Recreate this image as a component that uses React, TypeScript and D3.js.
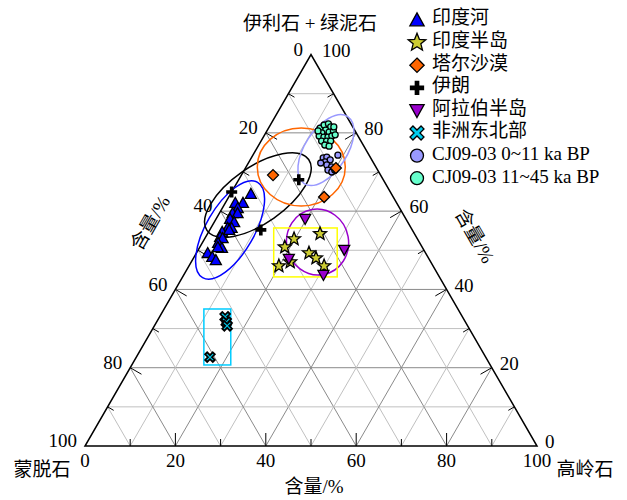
import React from "react";
import * as d3 from "d3";

const W = 627;
const H = 500;
const FONT = "'Liberation Serif', 'Times New Roman', 'Noto Sans CJK SC', serif";

// Each point: [高岭石 (kaolinite) %, 伊利石+绿泥石 (illite + chlorite) %]; 蒙脱石 = 100 - both
const indusRiver: [number, number][] = [
  [4.5, 64.4], [2.2, 62.1], [3.9, 62.1], [3.4, 60.8], [2.9, 59.5], [4.0, 59.5],
  [3.1, 58.0], [4.4, 57.2], [3.7, 55.7], [4.6, 55.7], [3.0, 54.7], [4.3, 55.2],
  [3.2, 53.4], [3.9, 53.1], [3.5, 51.9], [5.0, 50.6], [4.0, 50.8], [2.5, 49.3],
  [4.0, 48.3], [5.2, 47.5],
];
const indianPeninsula: [number, number][] = [
  [19.8, 52.9], [24.9, 54.2], [18.8, 50.8], [24.9, 49.3], [27.1, 48.0],
  [21.9, 47.0], [19.9, 46.0], [29.9, 46.0],
];
const tharDesert: [number, number][] = [[7.0, 69.2], [21.1, 63.6], [20.0, 71.0]];
const iran: [number, number][] = [[0.0, 64.9], [11.3, 55.2], [13.3, 68.0]];
const arabianPeninsula: [number, number][] = [[19.7, 58.0], [32.3, 50.1], [30.9, 43.7], [21.2, 47.8]];
const northeastAfrica: [number, number][] = [[14.5, 33.0], [15.4, 31.7], [16.1, 30.7], [16.3, 22.7]];
const cj0to11: [number, number][] = [
  [15.9, 73.6], [16.6, 73.8], [18.8, 74.3], [16.8, 72.6], [17.7, 73.1], [17.6, 71.8],
  [18.9, 71.3], [18.5, 70.5], [19.6, 70.0], [20.0, 70.5], [16.0, 72.3],
];
const cj11to45: [number, number][] = [
  [11.4, 81.2], [11.9, 82.0], [12.7, 82.3], [13.6, 81.5], [12.9, 80.7], [12.4, 80.0],
  [13.9, 80.2], [14.7, 80.5], [12.2, 79.2], [13.4, 78.9], [14.3, 78.9], [15.0, 79.2],
  [13.4, 77.9], [14.5, 77.9], [15.4, 77.9], [14.6, 76.9], [15.7, 76.6], [14.3, 81.5],
  [11.3, 80.5], [15.6, 79.5],
];

const legendLabels = [
  "印度河", "印度半岛", "塔尔沙漠", "伊朗", "阿拉伯半岛", "非洲东北部",
  "CJ09-03 0~11 ka BP", "CJ09-03 11~45 ka BP",
];
const labelTicks = [0, 20, 40, 60, 80, 100];
const gridTicks = [10, 20, 30, 40, 50, 60, 70, 80, 90];

const xS = d3.scaleLinear().domain([0, 100]).range([85, 537]);
const yS = d3.scaleLinear().domain([0, 100]).range([446, 446 - (452 * Math.sqrt(3)) / 2]);
const proj = (k: number, i: number): [number, number] => [xS(k + i / 2), yS(i)];

type Kind = "triUp" | "star" | "diamond" | "plus" | "triDown" | "cross" | "circleA" | "circleB";
const kinds: Kind[] = ["triUp", "star", "diamond", "plus", "triDown", "cross", "circleA", "circleB"];
const fills: Record<Kind, string> = {
  triUp: "#0000ff",
  star: "#cccc33",
  diamond: "#ff6600",
  plus: "#000000",
  triDown: "#9900cc",
  cross: "#00ccee",
  circleA: "#9999ff",
  circleB: "#66ffcc",
};

function starPath(R: number, r: number) {
  const pts: string[] = [];
  for (let j = 0; j < 10; j++) {
    const a = -Math.PI / 2 + (j * Math.PI) / 5;
    const rr = j % 2 === 0 ? R : r;
    pts.push(`${(rr * Math.cos(a)).toFixed(2)},${(rr * Math.sin(a)).toFixed(2)}`);
  }
  return "M" + pts.join("L") + "Z";
}
function plusPath(a: number, w: number) {
  return `M${-w},${-a}L${w},${-a}L${w},${-w}L${a},${-w}L${a},${w}L${w},${w}L${w},${a}L${-w},${a}L${-w},${w}L${-a},${w}L${-a},${-w}L${-w},${-w}Z`;
}

function Marker({ kind, x, y, s, sw, legend }: { kind: Kind; x: number; y: number; s: number; sw: number; legend?: boolean }) {
  const t = `translate(${x},${y})`;
  const common = { fill: fills[kind], stroke: "#000", strokeWidth: sw, strokeLinejoin: "miter" as const, transform: t };
  switch (kind) {
    case "triUp":
      return <path {...common} d={`M0,${-s * 0.55}L${s * 0.55},${s * 0.45}L${-s * 0.55},${s * 0.45}Z`} />;
    case "triDown":
      return <path {...common} d={`M0,${s * 0.55}L${s * 0.55},${-s * 0.45}L${-s * 0.55},${-s * 0.45}Z`} />;
    case "star":
      return <path {...common} d={starPath(s * 0.62, s * 0.27)} />;
    case "diamond":
      return <path {...common} d={`M0,${-s * 0.55}L${s * 0.55},0L0,${s * 0.55}L${-s * 0.55},0Z`} />;
    case "plus":
      return <path {...common} stroke="none" d={plusPath(s * 0.55, s * 0.18)} />;
    case "cross":
      return <path {...common} transform={`${t} rotate(45)`} d={plusPath(s * 0.6, s * 0.16)} />;
    case "circleA":
    case "circleB":
      return <circle fill={fills[kind]} stroke="#000" strokeWidth={sw} cx={x} cy={y} r={legend ? s * 0.5 : s * 0.3} />;
  }
}

const seriesData: [Kind, [number, number][]][] = [
  ["circleB", cj11to45],
  ["circleA", cj0to11],
  ["triUp", indusRiver],
  ["star", indianPeninsula],
  ["triDown", arabianPeninsula],
  ["diamond", tharDesert],
  ["plus", iran],
  ["cross", northeastAfrica],
];

// region outlines: centre in ternary coords [K, I]
const ellipses = [
  { c: [4.5, 55.2], rx: 55, ry: 24, rot: -60, color: "#0000ff" },
  { c: [6.2, 64.1], rx: 62, ry: 28, rot: -35, color: "#000000" },
  { c: [12.2, 71.3], rx: 44, ry: 39, rot: 0, color: "#ff6600" },
  { c: [15.5, 75.6], rx: 40, ry: 21, rot: -57, color: "#9999ff" },
  { c: [25.4, 52.1], rx: 31, ry: 33, rot: -10, color: "#9900cc" },
];
const boxes = [
  { a: [13.9, 55.7], b: [34.2, 43.2], color: "#ffff00" },
  { a: [8.8, 35.0], b: [21.9, 20.7], color: "#00ccff" },
];

export default function App() {
  const [lx, ly] = proj(0, 0);
  const [rx, ry] = proj(100, 0);
  const [tx, ty] = proj(0, 100);
  const c30 = Math.cos(Math.PI / 6);
  const s30 = 0.5;

  const grid: JSX.Element[] = [];
  gridTicks.forEach((v) => {
    const col = v % 20 === 0 ? "#8a8a8a" : "#c0c0c0";
    const segs: [[number, number], [number, number]][] = [
      [proj(0, v), proj(100 - v, v)],
      [proj(v, 0), proj(v, 100 - v)],
      [proj(100 - v, 0), proj(0, 100 - v)],
    ];
    segs.forEach((sg, j) =>
      grid.push(
        <line key={`g${v}-${j}`} x1={sg[0][0]} y1={sg[0][1]} x2={sg[1][0]} y2={sg[1][1]} stroke={col} strokeWidth={1} />
      )
    );
  });

  const ticks: JSX.Element[] = [];
  gridTicks.forEach((v) => {
    const len = v % 20 === 0 ? 13 : 7;
    const [bx, by] = proj(v, 0);
    ticks.push(<line key={`tb${v}`} x1={bx} y1={by} x2={bx} y2={by - len} stroke="#000" strokeWidth={1} />);
    const [lx2, ly2] = proj(0, 100 - v);
    ticks.push(<line key={`tl${v}`} x1={lx2} y1={ly2} x2={lx2 + len * c30} y2={ly2 + len * s30} stroke="#000" strokeWidth={1} />);
    const [rx2, ry2] = proj(100 - v, v);
    ticks.push(<line key={`tr${v}`} x1={rx2} y1={ry2} x2={rx2 - len * c30} y2={ry2 + len * s30} stroke="#000" strokeWidth={1} />);
  });

  const labels: JSX.Element[] = [];
  labelTicks.forEach((v) => {
    const [bx, by] = proj(v, 0);
    labels.push(
      <text key={`lb${v}`} x={bx} y={by + 17} textAnchor="middle" dominantBaseline="middle">{v}</text>
    );
    const [lx2, ly2] = proj(0, 100 - v);
    labels.push(
      <text key={`ll${v}`} x={lx2 - 8} y={ly2 - 3} textAnchor="end" dominantBaseline="middle">{v}</text>
    );
    const [rx2, ry2] = proj(100 - v, v);
    labels.push(
      <text key={`lr${v}`} x={rx2 + 8 + (v === 100 ? 3 : 0)} y={ry2 - 2} textAnchor="start" dominantBaseline="middle">{v}</text>
    );
  });

  return (
    <svg width={W} height={H} style={{ position: "absolute", left: 0, top: 0, background: "#fff" }} fontFamily={FONT} fontSize={19}>
      <rect x={0} y={0} width={W} height={H} fill="#fff" />
      {grid}
      <path d={`M${lx},${ly}L${rx},${ry}L${tx},${ty}Z`} fill="none" stroke="#000" strokeWidth={1.5} />
      {ticks}
      {ellipses.map((e, i) => {
        const [cx, cy] = proj(e.c[0], e.c[1]);
        return (
          <ellipse key={`e${i}`} cx={0} cy={0} rx={e.rx} ry={e.ry} transform={`translate(${cx},${cy}) rotate(${e.rot})`} fill="none" stroke={e.color} strokeWidth={1.5} />
        );
      })}
      {boxes.map((b, i) => {
        const [x1, y1] = proj(b.a[0], b.a[1]);
        const [x2, y2] = proj(b.b[0], b.b[1]);
        return <rect key={`b${i}`} x={x1} y={y1} width={x2 - x1} height={y2 - y1} fill="none" stroke={b.color} strokeWidth={1.5} />;
      })}
      {seriesData.map(([kind, pts]) =>
        pts.map((p, i) => {
          const [x, y] = proj(p[0], p[1]);
          const s = kind === "star" ? 11 : kind === "cross" ? 9 : 10;
          const sw = kind === "cross" ? 1.8 : kind === "star" ? 1.3 : 1.3;
          return <Marker key={`${kind}${i}`} kind={kind} x={x} y={y} s={s} sw={sw} />;
        })
      )}
      {labels}
      <text x={310} y={26} textAnchor="middle" dominantBaseline="middle">伊利石 + 绿泥石</text>
      <text x={42} y={472} textAnchor="middle" dominantBaseline="middle">蒙脱石</text>
      <text x={585} y={472} textAnchor="middle" dominantBaseline="middle">高岭石</text>
      <text x={314} y={489} textAnchor="middle" dominantBaseline="middle">含量/%</text>
      <text transform="translate(152,224) rotate(-60)" textAnchor="middle" dominantBaseline="middle">含量/%</text>
      <text transform="translate(473,237) rotate(60)" textAnchor="middle" dominantBaseline="middle">含量/%</text>
      {legendLabels.map((lab, i) => {
        const y = 20 + i * 22.6;
        return (
          <g key={`lg${i}`}>
            <Marker kind={kinds[i]} x={417} y={y} s={kinds[i] === "star" ? 15 : 13} sw={1.3} legend />
            <text x={432} y={y} dominantBaseline="middle">{lab}</text>
          </g>
        );
      })}
    </svg>
  );
}
